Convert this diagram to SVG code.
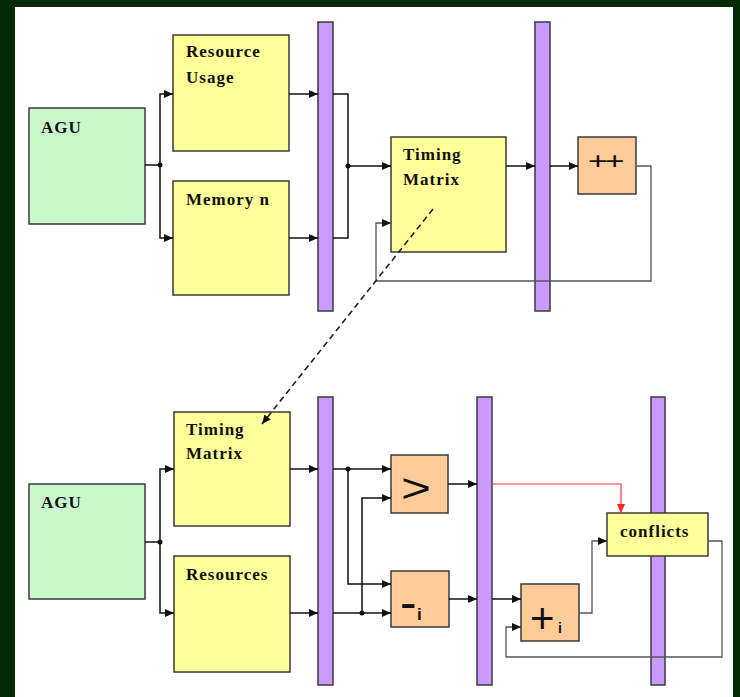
<svg xmlns="http://www.w3.org/2000/svg" width="740" height="697" viewBox="0 0 740 697">
<style>
.box{stroke:#3a3a3a;stroke-width:1.5}
.agu{fill:#c8f7cc}
.yel{fill:#ffff99}
.org{fill:#ffcc99}
.bar{fill:#cc99ff;stroke:#3a3a3a;stroke-width:1.5}
.lbl{font-family:"Liberation Serif",serif;font-weight:bold;font-size:17px;letter-spacing:1px;fill:#111}
.sym{font-family:"Liberation Sans",sans-serif;fill:#111}
.w{fill:none;stroke:#111;stroke-width:1.5}
.g{fill:none;stroke:#555;stroke-width:1.3}
.r{fill:none;stroke:#ff3333;stroke-width:1.2}
.d{fill:none;stroke:#222;stroke-width:1.6;stroke-dasharray:6 4}
.dot{fill:#111}
</style>
<defs>
<marker id="ah" markerUnits="userSpaceOnUse" markerWidth="9" markerHeight="8" refX="9" refY="4" orient="auto"><path d="M0,0 L9,4 L0,8 z" fill="#111"/></marker>
<marker id="ahr" markerUnits="userSpaceOnUse" markerWidth="9" markerHeight="8" refX="9" refY="4" orient="auto"><path d="M0,0 L9,4 L0,8 z" fill="#ff2222"/></marker>
</defs>
<rect x="0" y="0" width="740" height="697" fill="#012a05"/>
<rect x="15" y="7" width="718" height="690" fill="#ffffff"/>

<g id="agu1"><rect class="box agu" x="29" y="108" width="116" height="116"/><text class="lbl" x="41" y="133">AGU</text></g>
<g id="resource-usage"><rect class="box yel" x="173" y="35" width="116" height="116"/><text class="lbl" x="186" y="57">Resource</text><text class="lbl" x="186" y="83">Usage</text></g>
<g id="memory-n"><rect class="box yel" x="173" y="181" width="116" height="114"/><text class="lbl" x="186" y="205">Memory n</text></g>
<g id="bar1"><rect class="bar" x="318" y="22" width="15" height="289"/></g>
<g id="timing1"><rect class="box yel" x="391" y="137" width="115" height="115"/><text class="lbl" x="403" y="160">Timing</text><text class="lbl" x="403" y="185">Matrix</text></g>
<g id="bar2"><rect class="bar" x="535" y="22" width="15" height="289"/></g>
<g id="incr"><rect class="box org" x="578" y="137" width="58" height="57"/><text class="sym" font-size="34" letter-spacing="-3" transform="translate(588,169) scale(1,0.7)" x="0" y="0">++</text></g>

<g id="agu2"><rect class="box agu" x="29" y="484" width="116" height="115"/><text class="lbl" x="41" y="508">AGU</text></g>
<g id="timing2"><rect class="box yel" x="174" y="412" width="116" height="114"/><text class="lbl" x="186" y="435">Timing</text><text class="lbl" x="186" y="459">Matrix</text></g>
<g id="resources"><rect class="box yel" x="174" y="556" width="116" height="116"/><text class="lbl" x="186" y="580">Resources</text></g>
<g id="bar3"><rect class="bar" x="318" y="397" width="15" height="288"/></g>
<g id="greater"><rect class="box org" x="391" y="455" width="57" height="58"/><text class="sym" font-size="41" transform="translate(401,502) scale(1.25,1)" x="0" y="0">&gt;</text></g>
<g id="minus-i"><rect class="box org" x="391" y="571" width="58" height="56"/><text class="sym" x="400" y="619" font-size="50">-</text><text class="sym" x="417" y="620" font-size="17" font-weight="bold">i</text></g>
<g id="bar4"><rect class="bar" x="477" y="397" width="15" height="288"/></g>
<g id="plus-i"><rect class="box org" x="521" y="584" width="58" height="57"/><text class="sym" x="530" y="633" font-size="42">+</text><text class="sym" x="558" y="633" font-size="14" font-weight="bold">i</text></g>
<g id="bar5"><rect class="bar" x="651" y="397" width="14" height="288"/></g>
<g id="conflicts"><rect class="box yel" x="607" y="513" width="101" height="43"/><text class="lbl" x="620" y="537">conflicts</text></g>

<g id="connectors">
<path class="w" d="M145,165 H160"/>
<path class="w" d="M160,165 V94 H173" marker-end="url(#ah)"/>
<path class="w" d="M160,165 V238 H173" marker-end="url(#ah)"/>
<path class="w" d="M289,94 H318" marker-end="url(#ah)"/>
<path class="w" d="M289,238 H318" marker-end="url(#ah)"/>
<path class="w" d="M333,94 H348 V238 H333" stroke-width="1.2"/>
<path class="w" d="M348,166 H391" marker-end="url(#ah)"/>
<path class="w" d="M506,166 H535" marker-end="url(#ah)"/>
<path class="w" d="M550,166 H578" marker-end="url(#ah)"/>
<path class="g" d="M636,166 H651 V281 H376 V223 H391" marker-end="url(#ah)"/>
<path class="d" d="M433,209 L262,424" marker-end="url(#ah)"/>

<path class="w" d="M145,542 H160"/>
<path class="w" d="M160,542 V469 H174" marker-end="url(#ah)"/>
<path class="w" d="M160,542 V613 H174" marker-end="url(#ah)"/>
<path class="w" d="M290,469 H318" marker-end="url(#ah)"/>
<path class="w" d="M290,613 H318" marker-end="url(#ah)"/>
<path class="w" d="M333,469 H391" marker-end="url(#ah)"/>
<path class="w" d="M348,469 V584 H391" marker-end="url(#ah)"/>
<path class="w" d="M333,613 H391" marker-end="url(#ah)"/>
<path class="w" d="M362,613 V498 H391" marker-end="url(#ah)"/>
<path class="w" d="M448,484 H477" marker-end="url(#ah)"/>
<path class="w" d="M449,599 H477" marker-end="url(#ah)"/>
<path class="r" d="M492,484 H621 V513" marker-end="url(#ahr)"/>
<path class="w" d="M492,599 H521" marker-end="url(#ah)"/>
<path class="g" d="M579,613 H592 V541 H607" marker-end="url(#ah)"/>
<path class="g" d="M708,541 H722 V657 H506 V627 H521" marker-end="url(#ah)"/>

<circle class="dot" cx="160" cy="165" r="2.5"/>
<circle class="dot" cx="348" cy="166" r="2.5"/>
<circle class="dot" cx="160" cy="542" r="2.5"/>
<circle class="dot" cx="348" cy="469" r="2.5"/>
<circle class="dot" cx="362" cy="613" r="2.5"/>
</g>
</svg>
